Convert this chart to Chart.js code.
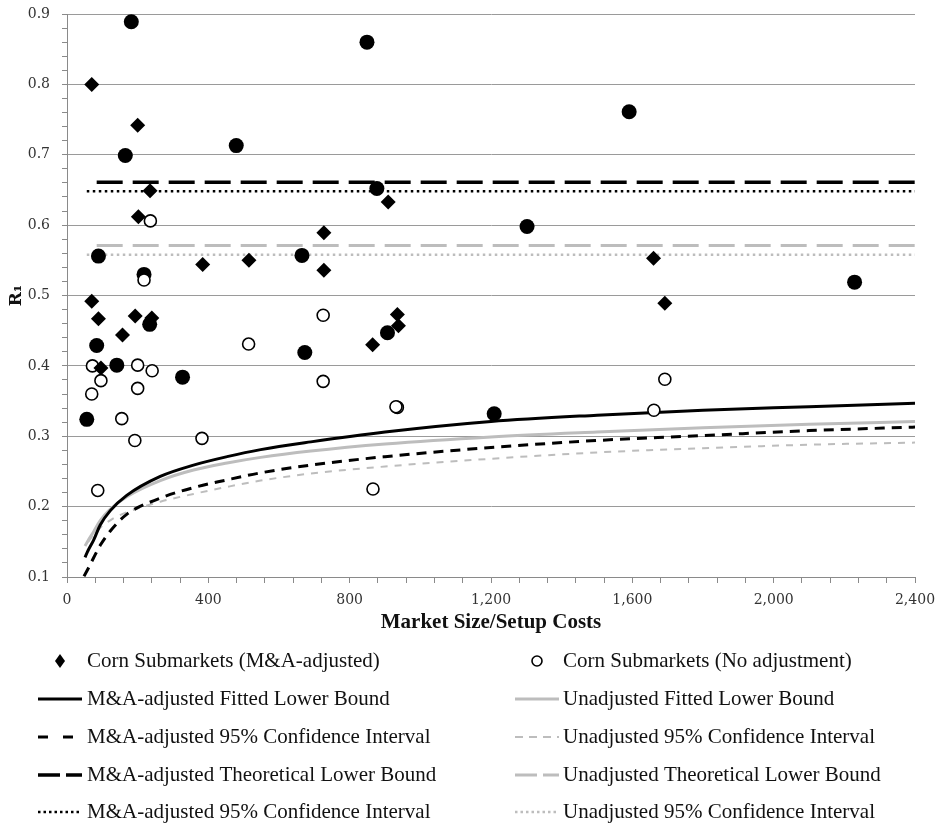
<!DOCTYPE html>
<html>
<head>
<meta charset="utf-8">
<script src="https://cdn.jsdelivr.net/npm/chart.js@4"></script>
<style>
  body { margin: 0; background: #fff; }
  #wrap { width: 938px; height: 825px; }
</style>
</head>
<body>
<div id="wrap"><canvas id="c" width="938" height="825"></canvas></div>
<script>
// scatter points
const adjX = [70, 200, 235, 202, 384, 515, 70, 89, 157, 193, 240, 96, 909, 727, 727, 1660, 1692, 935, 938, 865];
const adjY = [0.800, 0.742, 0.649, 0.612, 0.544, 0.550, 0.492, 0.467, 0.444, 0.471, 0.468, 0.397, 0.633, 0.589, 0.536, 0.553, 0.489, 0.473, 0.457, 0.430];
const rawX = [236, 218, 72, 200, 241, 96, 70, 200, 155, 192, 382, 87, 514, 725, 725, 1692, 935, 931, 1661, 866];
const rawY = [0.606, 0.522, 0.400, 0.401, 0.393, 0.379, 0.360, 0.368, 0.325, 0.294, 0.297, 0.223, 0.431, 0.472, 0.378, 0.381, 0.341, 0.342, 0.337, 0.225];
// markets where both values coincide (drawn as filled dots)
const bothX = [182, 165, 479, 89, 218, 665, 84, 234, 141, 327, 56, 673, 849, 1591, 877, 1302, 907, 1209, 2229];
const bothY = [0.889, 0.699, 0.713, 0.556, 0.530, 0.557, 0.429, 0.459, 0.401, 0.384, 0.324, 0.419, 0.860, 0.761, 0.652, 0.598, 0.447, 0.332, 0.519];

// fitted lower bounds
const fitX = [51, 60, 75, 94, 122, 169, 264, 358, 453, 548, 690, 900, 1200, 1500, 1800, 2100, 2400];
const adjFitY = [0.128, 0.138, 0.152, 0.174, 0.194, 0.216, 0.243, 0.259, 0.271, 0.281, 0.292, 0.306, 0.321, 0.330, 0.337, 0.342, 0.347];
const rawFitY = [0.144, 0.152, 0.164, 0.180, 0.196, 0.214, 0.237, 0.252, 0.262, 0.270, 0.279, 0.289, 0.299, 0.306, 0.312, 0.317, 0.321];

// 95% confidence intervals of the fits
const adjCiX = [48, 60, 75, 94, 122, 169, 264, 358, 453, 548, 690, 900, 1200, 1500, 1800, 2100, 2400];
const adjCiY = [0.101, 0.112, 0.127, 0.145, 0.165, 0.189, 0.212, 0.227, 0.238, 0.248, 0.259, 0.271, 0.284, 0.294, 0.301, 0.308, 0.313];
const rawCiX = [60, 75, 94, 130, 169, 264, 358, 453, 548, 690, 900, 1200, 1500, 1800, 2100, 2400];
const rawCiY = [0.150, 0.160, 0.170, 0.183, 0.192, 0.207, 0.218, 0.228, 0.237, 0.247, 0.257, 0.268, 0.277, 0.283, 0.288, 0.291];

// theoretical lower bounds and their intervals
const theoryX = [84, 2400];
const adjTheoryY = [0.661, 0.661];
const rawTheoryY = [0.571, 0.571];
const intervalX = [56, 2400];
const adjIntervalY = [0.648, 0.648];
const rawIntervalY = [0.558, 0.558];

const pts = (xs, ys) => xs.map((x, i) => ({ x: x, y: ys[i] }));
const GRAY = '#bdbdbd';

const lineSet = (label, xs, ys, color, width, dash, legendDash) => ({
  label: label,
  data: pts(xs, ys),
  showLine: true,
  borderColor: color,
  borderWidth: width,
  borderDash: dash,
  legendDash: legendDash || dash,
  pointRadius: 0,
  cubicInterpolationMode: 'monotone',
  fill: false
});

const datasets = [
  { label: 'Corn Submarkets (M&A-adjusted)', data: pts(adjX, adjY), pointStyle: 'rectRot',
    pointRadius: 7.5, backgroundColor: '#000', borderColor: '#000', borderWidth: 0 },
  { label: 'Corn Submarkets (No adjustment)', data: pts(rawX, rawY), pointStyle: 'circle',
    pointRadius: 6, backgroundColor: '#fff', borderColor: '#000', borderWidth: 1.6 },
  { label: 'both', data: pts(bothX, bothY), pointStyle: 'circle',
    pointRadius: 7.5, backgroundColor: '#000', borderColor: '#000', borderWidth: 0 },
  lineSet('M&A-adjusted Fitted Lower Bound', fitX, adjFitY, '#000', 3, []),
  lineSet('Unadjusted Fitted Lower Bound', fitX, rawFitY, GRAY, 3, []),
  lineSet('M&A-adjusted 95% Confidence Interval', adjCiX, adjCiY, '#000', 3, [10, 7], [10, 15]),
  lineSet('Unadjusted 95% Confidence Interval', rawCiX, rawCiY, GRAY, 2, [7, 7], [8, 6]),
  lineSet('M&A-adjusted Theoretical Lower Bound', theoryX, adjTheoryY, '#000', 3.5, [26, 10], [22, 6]),
  lineSet('Unadjusted Theoretical Lower Bound', theoryX, rawTheoryY, GRAY, 3, [26, 10], [22, 6]),
  lineSet('M&A-adjusted 95% Confidence Interval', intervalX, adjIntervalY, '#000', 2.5, [2.5, 3.5], [2.5, 3]),
  lineSet('Unadjusted 95% Confidence Interval', intervalX, rawIntervalY, GRAY, 2.5, [2.5, 3.5], [2.5, 3])
];

// two-column legend under the axis
const legendRows = [[0, 1], [3, 4], [5, 6], [7, 8], [9, 10]];
const legendPlugin = {
  id: 'twoColLegend',
  afterDraw(chart) {
    const ctx = chart.ctx;
    const cols = [{ x0: 38, x1: 82, tx: 87 }, { x0: 515, x1: 559, tx: 563 }];
    const rowY = [661, 699, 737, 775, 812];
    ctx.save();
    ctx.font = '21px "Liberation Serif"';
    ctx.textBaseline = 'middle';
    legendRows.forEach((row, r) => {
      row.forEach((di, c) => {
        const ds = chart.data.datasets[di];
        const col = cols[c];
        const y = rowY[r];
        if (ds.showLine) {
          ctx.save();
          ctx.strokeStyle = ds.borderColor;
          ctx.lineWidth = ds.borderWidth;
          ctx.setLineDash(ds.legendDash);
          ctx.beginPath();
          ctx.moveTo(col.x0, y);
          ctx.lineTo(col.x1, y);
          ctx.stroke();
          ctx.restore();
        } else {
          const cx = (col.x0 + col.x1) / 2;
          ctx.fillStyle = ds.backgroundColor;
          ctx.strokeStyle = ds.borderColor;
          ctx.lineWidth = ds.borderWidth || 1;
          ctx.beginPath();
          if (ds.pointStyle === 'circle') {
            ctx.arc(cx, y, 5, 0, Math.PI * 2);
          } else {
            ctx.moveTo(cx, y - 7); ctx.lineTo(cx + 5, y); ctx.lineTo(cx, y + 7); ctx.lineTo(cx - 5, y);
            ctx.closePath();
          }
          ctx.fill();
          if (ds.borderWidth) ctx.stroke();
        }
        ctx.fillStyle = '#111';
        ctx.fillText(ds.label, col.tx, y);
      });
    });
    ctx.restore();
  }
};

const isMajor = (v, step) => Math.abs(v / step - Math.round(v / step)) < 1e-6;

new Chart(document.getElementById('c'), {
  type: 'scatter',
  data: { datasets: datasets },
  plugins: [legendPlugin],
  options: {
    responsive: false,
    animation: false,
    events: [],
    layout: { padding: { left: 0, right: 23, top: 14, bottom: 188 } },
    plugins: { legend: { display: false }, tooltip: { enabled: false } },
    scales: {
      x: {
        type: 'linear',
        min: 0, max: 2400,
        afterFit(s) { s.height = 60; s.paddingLeft = 0; s.paddingRight = 0; },
        border: { color: '#8a8a8a', width: 1 },
        grid: { drawOnChartArea: false, tickLength: 6, tickColor: '#8a8a8a' },
        ticks: {
          stepSize: 80, autoSkip: false, maxRotation: 0, padding: 9,
          color: '#333', font: { family: '"DejaVu Serif"', size: 14 },
          callback: v => isMajor(v, 400) ? v.toLocaleString('en-US') : ''
        },
        title: {
          display: true, text: 'Market Size/Setup Costs', color: '#111',
          font: { family: '"Liberation Serif"', size: 21, weight: 'bold' },
          padding: { top: 2, bottom: 2 }
        }
      },
      y: {
        min: 0.1, max: 0.9,
        afterFit(s) { s.width = 67; s.paddingTop = 0; s.paddingBottom = 0; },
        border: { color: '#8a8a8a', width: 1 },
        grid: {
          tickLength: 5,
          color: c => isMajor(c.tick.value, 0.1) ? '#9a9a9a' : 'rgba(0,0,0,0)',
          tickColor: '#8a8a8a'
        },
        ticks: {
          stepSize: 0.02, autoSkip: false, padding: 12,
          color: '#333', font: { family: '"DejaVu Serif"', size: 14 },
          callback: v => isMajor(v, 0.1) ? v.toFixed(1) : ''
        },
        title: {
          display: true, text: 'R\u2081', color: '#111',
          font: { family: '"DejaVu Serif"', size: 17, weight: 'bold' },
          padding: { top: 6, bottom: 0 }
        }
      }
    }
  }
});
</script>
</body>
</html>
